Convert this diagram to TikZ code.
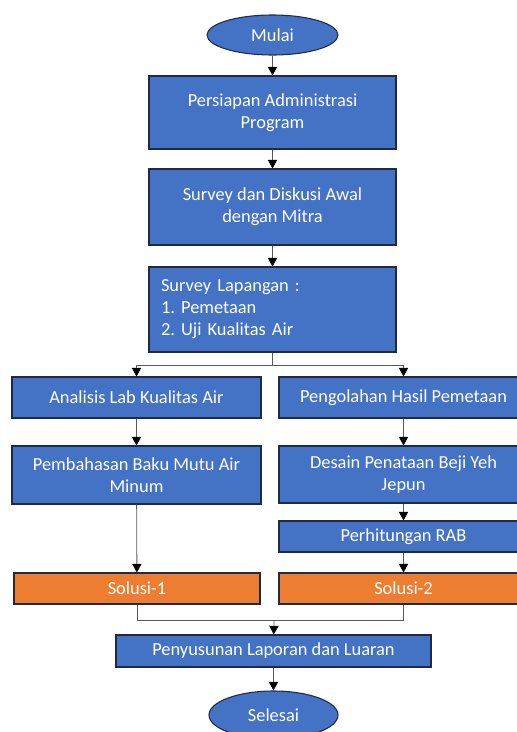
\documentclass[tikz,border=0pt]{standalone}
\usepackage{fontspec}
\setmainfont{Carlito}
\frenchspacing
\usetikzlibrary{arrows.meta,shapes.geometric,positioning}
\definecolor{boxblue}{HTML}{4472C4}
\definecolor{boxorange}{HTML}{ED7D31}
\definecolor{boxline}{HTML}{1F2A44}

\begin{document}
\begin{tikzpicture}[x=0.75pt,y=-0.75pt]
\tikzstyle{every node}=[font=\fontsize{13.8}{16.5}\selectfont, text=white]
\tikzstyle{proses}=[rectangle, draw=boxline, fill=boxblue, line width=0.8pt, inner sep=0pt, align=center]
\tikzstyle{solusi}=[proses, fill=boxorange]
\tikzstyle{terminal}=[ellipse, draw=boxline, fill=boxblue, line width=0.8pt, inner sep=0pt]
\tikzstyle{panah}=[draw=black!65, line width=0.6pt, -{Triangle[length=6.5pt,width=7pt,black]}]
\tikzstyle{garis}=[draw=black!65, line width=0.6pt]
\useasboundingbox (0,0) rectangle (517,732);

% alur utama
\node[terminal, minimum width=98.25pt, minimum height=30pt] (mulai) at (272.5,35) {Mulai};
\node[proses, minimum width=185.25pt, minimum height=54.75pt] (persiapan) at (272.5,112.5) {Persiapan Administrasi\\ Program};
\node[proses, minimum width=185.25pt, minimum height=57pt] (diskusi) at (272.5,207) {Survey dan Diskusi Awal\\ dengan Mitra};
\node[proses, minimum width=185.25pt, minimum height=63.75pt, text width=167.25pt, align=left] (lapangan) at (272.5,309.5) {Survey Lapangan :\\ 1. Pemetaan\\ 2. Uji Kualitas Air};

% cabang kiri
\node[proses, minimum width=186.75pt, minimum height=30.75pt] (analisis) at (136.5,397.5) {Analisis Lab Kualitas Air};
\node[proses, minimum width=186.75pt, minimum height=43.5pt] (bakumutu) at (136.5,475) {Pembahasan Baku Mutu Air\\ Minum};
\node[solusi, minimum width=184.5pt, minimum height=23.25pt] (solusi1) at (137,588.5) {Solusi-1};

% cabang kanan
\node[proses, minimum width=186.75pt, minimum height=30.75pt] (pengolahan) at (403.5,397.5) {Pengolahan Hasil Pemetaan};
\node[proses, minimum width=186.75pt, minimum height=42.75pt] (desain) at (403.5,474.5) {Desain Penataan Beji Yeh\\ Jepun};
\node[proses, minimum width=186.75pt, minimum height=23.25pt] (rab) at (403.5,536.5) {Perhitungan RAB};
\node[solusi, minimum width=186.75pt, minimum height=23.25pt] (solusi2) at (403.5,588.5) {Solusi-2};

% penutup
\node[proses, minimum width=236.25pt, minimum height=24pt] (laporan) at (273.5,651) {Penyusunan Laporan dan Luaran};
\node[terminal, minimum width=96.75pt, minimum height=36pt] (selesai) at (273.5,715) {Selesai};

\coordinate (pisah) at (272.5,365);
\coordinate (gabung) at (274,620);

\draw[panah] (mulai) -- (persiapan);
\draw[panah] (persiapan) -- (diskusi);
\draw[panah] (diskusi) -- (lapangan);
\draw[garis] (lapangan) -- (pisah);
\draw[panah] (pisah) -| (analisis);
\draw[panah] (pisah) -| (pengolahan);
\draw[panah] (analisis) -- (bakumutu);
\draw[panah] (bakumutu) -- (solusi1);
\draw[panah] (pengolahan) -- (desain);
\draw[panah] (desain) -- (rab);
\draw[panah] (rab) -- (solusi2);
\draw[garis] (solusi1) |- (gabung);
\draw[garis] (solusi2) |- (gabung);
\draw[panah] (gabung) -- (laporan);
\draw[panah] (laporan) -- (selesai);
\end{tikzpicture}
\end{document}
